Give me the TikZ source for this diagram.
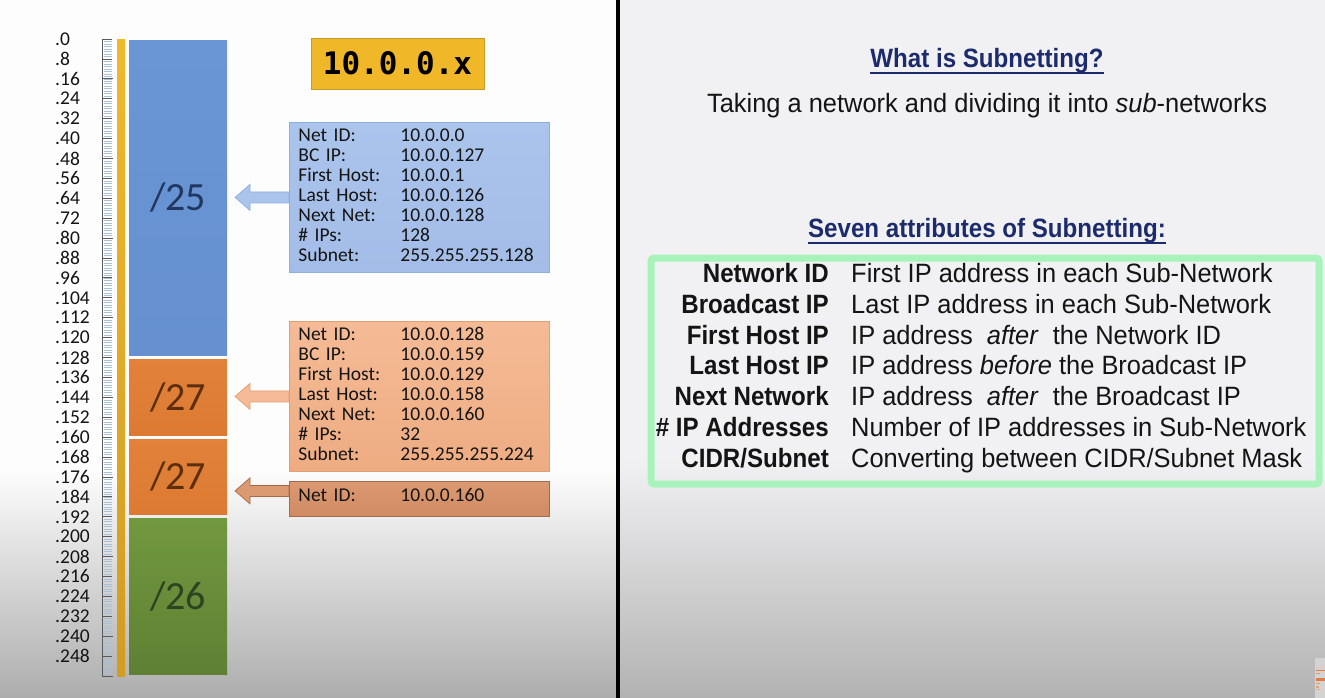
\documentclass[tikz,border=0pt]{standalone}
\usepackage{fontspec}
\setmainfont{Carlito}
\newfontfamily\slidefont[FakeStretch=0.96]{Liberation Sans}
\newfontfamily\slidebold[FakeStretch=0.91]{Liberation Sans}
\newfontfamily\codefont{DejaVu Sans Mono}
\usetikzlibrary{calc}

\definecolor{bgleft}{HTML}{FDFDFD}
\definecolor{bgleftlow}{HTML}{ADADAD}
\definecolor{bgright}{HTML}{F1F1F3}
\definecolor{bgrightlow}{HTML}{B2B2B2}
\definecolor{tickminor}{HTML}{A9BFD8}
\definecolor{tickmajor}{HTML}{5A5A5A}
\definecolor{goldtop}{HTML}{F0B92C}
\definecolor{goldbot}{HTML}{D19D22}
\definecolor{blueblk}{HTML}{6A96D6}
\definecolor{blueblkb}{HTML}{6690CF}
\definecolor{bluetxt}{HTML}{22375F}
\definecolor{orangeblk}{HTML}{E2823A}
\definecolor{orangeblkb}{HTML}{DC7A32}
\definecolor{orangetxt}{HTML}{5C2E0C}
\definecolor{greenblk}{HTML}{72983F}
\definecolor{greenblkb}{HTML}{5E8034}
\definecolor{greentxt}{HTML}{2D4420}
\definecolor{infoblue}{HTML}{AAC4EC}
\definecolor{infoblueb}{HTML}{A3BDE8}
\definecolor{infoblueline}{HTML}{8EAEE0}
\definecolor{infoorange}{HTML}{F5BB96}
\definecolor{infoorangeb}{HTML}{EEAC82}
\definecolor{infoorangeline}{HTML}{E49E70}
\definecolor{infotan}{HTML}{DC9A72}
\definecolor{infotanb}{HTML}{CF8A62}
\definecolor{infotanline}{HTML}{A8694A}
\definecolor{tagfill}{HTML}{F0B729}
\definecolor{tagline}{HTML}{C89A28}
\definecolor{navy}{HTML}{1C2B6C}
\definecolor{ink}{HTML}{141414}
\definecolor{framegreen}{HTML}{A8F3BC}
\definecolor{camgray}{HTML}{D3D3D3}
\definecolor{camorange}{HTML}{E07C44}

% a left-pointing block arrow from the info box (#1) to the x of (#2)
\newcommand\blockpointer[4]{%
  \path[fill=#3,draw=#4,line width=0.7pt] let \p1=(#1), \p2=(#2) in
    (\x1,\y1+5.5pt) -- (\x2+15pt,\y1+5.5pt) -- (\x2+15pt,\y1+13pt) --
    (\x2,\y1) -- (\x2+15pt,\y1-13pt) -- (\x2+15pt,\y1-5.5pt) --
    (\x1,\y1-5.5pt) -- cycle;}
\newcommand\inforow[2]{\makebox[102pt][l]{#1}#2}

\tikzset{
  block/.style={anchor=north west, minimum width=98pt, inner sep=0pt,
    font=\fontsize{40}{40}\selectfont},
  infobox/.style={anchor=north west, text width=242pt, inner xsep=9pt,
    inner ysep=0pt, line width=0.8pt, align=left, text=ink,
    font=\fontsize{19.5}{20}\selectfont},
  rulerlabel/.style={anchor=west, inner sep=0pt, text=ink,
    font=\fontsize{19.5}{19.5}\selectfont},
  heading/.style={anchor=base, inner sep=0pt, text=navy,
    font=\slidebold\bfseries\fontsize{26.5}{30}\selectfont},
  attrlabel/.style={anchor=base east, inner sep=0pt, text=ink,
    font=\slidebold\bfseries\fontsize{26.5}{30}\selectfont},
  attrdesc/.style={anchor=base west, inner sep=0pt, text=ink,
    font=\slidefont\fontsize{26.5}{30}\selectfont},
}

\begin{document}
\begin{tikzpicture}[x=1pt,y=-1pt]
\useasboundingbox (0,0) rectangle (1325,698);

% panel backgrounds
\fill[bgleft] (0,0) rectangle (616,470);
\shade[top color=bgleft,bottom color=bgleftlow] (0,470) rectangle (616,698);
\fill[bgright] (620,0) rectangle (1325,460);
\shade[top color=bgright,bottom color=bgrightlow] (620,460) rectangle (1325,698);
\fill[black] (616,0) rectangle (620,698);

% address ruler
\foreach \k in {0,...,255}
  \draw[tickminor,line width=0.6pt] (104,{39+\k*2.48828}) -- (112,{39+\k*2.48828});
\foreach \k in {0,8,...,248}{
  \draw[tickmajor,line width=0.8pt] (102,{39+\k*2.48828}) -- (112,{39+\k*2.48828});
  \node[rulerlabel] (lab\k) at (55,{39+\k*2.48828}) {.\k};
}
\foreach \k in {16,48,...,240}
  \draw[tickmajor,line width=0.8pt] (102,{39+\k*2.48828}) -- (113,{39+\k*2.48828});
\draw[tickmajor,line width=0.8pt] (102,39) -- (102,676) -- (113,676);

% yellow address bar
\node[anchor=north west, minimum width=8pt, minimum height=637pt, inner sep=0pt,
  top color=goldtop, bottom color=goldbot] (ybar) at (117,39) {};

% subnet blocks
\node[block, minimum height=315pt, top color=blueblk, bottom color=blueblkb,
  text=bluetxt] (b25) at (129,40) {/25};
\node[block, minimum height=76pt, top color=orangeblk, bottom color=orangeblkb,
  text=orangetxt] (b27a) at (129,359) {/27};
\node[block, minimum height=75pt, top color=orangeblk, bottom color=orangeblkb,
  text=orangetxt] (b27b) at (129,439) {/27};
\node[block, minimum height=156pt, top color=greenblk, bottom color=greenblkb,
  text=greentxt] (b26) at (129,518) {/26};

% network tag
\node[draw=tagline, fill=tagfill, line width=0.8pt, minimum width=173pt,
  minimum height=51pt, inner sep=0pt, font=\codefont\bfseries\fontsize{31}{31}\selectfont]
  (tag) at (397.5,63.5) {10.0.0.x};

% info boxes
\coordinate (tipx) at (235,0);
\node[infobox, minimum height=150pt, draw=infoblueline, top color=infoblue,
  bottom color=infoblueb] (i25) at (289,122) {%
  \inforow{Net ID:}{10.0.0.0}\\
  \inforow{BC IP:}{10.0.0.127}\\
  \inforow{First Host:}{10.0.0.1}\\
  \inforow{Last Host:}{10.0.0.126}\\
  \inforow{Next Net:}{10.0.0.128}\\
  \inforow{\# IPs:}{128}\\
  \inforow{Subnet:}{255.255.255.128}\par\vspace{4pt}};
\node[infobox, minimum height=150pt, draw=infoorangeline, top color=infoorange,
  bottom color=infoorangeb] (i27a) at (289,321) {%
  \inforow{Net ID:}{10.0.0.128}\\
  \inforow{BC IP:}{10.0.0.159}\\
  \inforow{First Host:}{10.0.0.129}\\
  \inforow{Last Host:}{10.0.0.158}\\
  \inforow{Next Net:}{10.0.0.160}\\
  \inforow{\# IPs:}{32}\\
  \inforow{Subnet:}{255.255.255.224}\par\vspace{4pt}};
\node[infobox, minimum height=35pt, draw=infotanline, top color=infotan,
  bottom color=infotanb] (i27b) at (289,481) {%
  \inforow{Net ID:}{10.0.0.160}\par\vspace{8pt}};

% arrows from the info boxes to the ruler
\blockpointer{i25.west}{tipx}{infoblue}{infoblueline}
\blockpointer{i27a.west}{tipx}{infoorange}{infoorangeline}
\blockpointer{[yshift=8pt]i27b.west}{tipx}{infotan}{infotanline}
\draw[draw=infoblueline,line width=0.8pt] (i25.north west) -- (i25.south west);
\draw[draw=infoorangeline,line width=0.8pt] (i27a.north west) -- (i27a.south west);
\draw[draw=infotanline,line width=0.8pt] (i27b.north west) -- (i27b.south west);

% right panel
\node[heading] (q) at (987,67.5) {What is Subnetting?};
\draw[navy,line width=2pt] ([yshift=-5.5pt]q.base west) -- ([yshift=-5.5pt]q.base east);
\node[attrdesc, anchor=base] (def) at (987,112.5)
  {Taking a network and dividing it into \textit{sub}-networks};
\node[heading] (seven) at (987,237.5) {Seven attributes of Subnetting:};
\draw[navy,line width=2pt] ([yshift=-5.5pt]seven.base west) -- ([yshift=-5.5pt]seven.base east);

\node[draw=framegreen, line width=7pt, rounded corners=3pt, minimum width=668pt,
  minimum height=226pt, anchor=north west, inner sep=0pt] (attrs) at (647.5,254.5) {};

\foreach \n/\lab/\desc in {
  1/{Network ID}/{First IP address in each Sub-Network},
  2/{Broadcast IP}/{Last IP address in each Sub-Network},
  3/{First Host IP}/{IP address~ \textit{after}~ the Network ID},
  4/{Last Host IP}/{IP address \textit{before} the Broadcast IP},
  5/{Next Network}/{IP address~ \textit{after}~ the Broadcast IP},
  6/{\# IP Addresses}/{Number of IP addresses in Sub-Network},
  7/{CIDR\slash Subnet}/{Converting between CIDR\slash Subnet Mask}}{
  \node[attrlabel] (al\n) at (829,{282.5+(\n-1)*30.8}) {\lab};
  \node[attrdesc] (ad\n) at (851,{282.5+(\n-1)*30.8}) {\desc};
}

% small overlay in the lower right corner
\fill[camgray] (1315,658) rectangle (1325,698);
\fill[camorange!45] (1316,666.5) rectangle (1325,668);
\fill[camorange] (1316,669.5) rectangle (1325,671);
\fill[camorange!80] (1316,672.5) rectangle (1320,674);
\fill[camorange] (1316,678) rectangle (1325,681);
\fill[camorange!80] (1316,682.5) rectangle (1320,684);
\fill[camorange!70] (1316,686) rectangle (1319,687.5);
\fill[camorange!60] (1316,688.5) rectangle (1320,690);
\end{tikzpicture}
\end{document}
